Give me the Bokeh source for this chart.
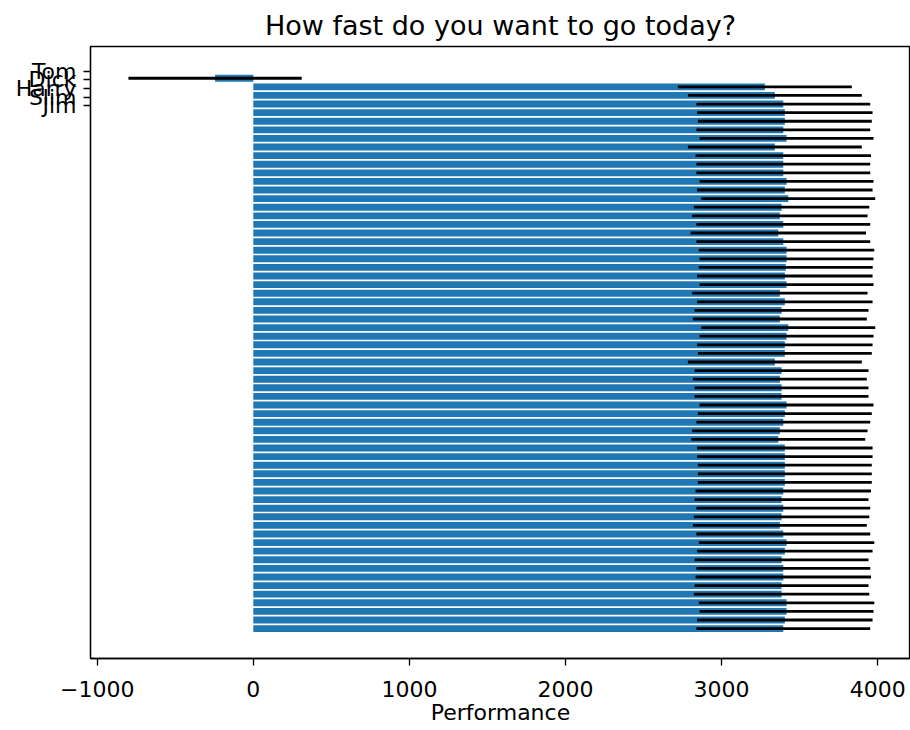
import numpy as np
from bokeh.plotting import figure
from bokeh.models import ColumnDataSource, Range1d, FixedTicker
from bokeh.embed import file_html
from bokeh.resources import INLINE

# Tick names shown on the y axis
people = ["Tom", "Dick", "Harry", "Slim", "Jim"]

# Performance per row (first row is the negative one) and its error half-width
performance = [
    -245,
    3277, 3341, 3395, 3405, 3405, 3395, 3416, 3341, 3395, 3395,
    3395, 3416, 3405, 3427, 3384, 3373, 3395, 3363, 3395, 3416,
    3416, 3411, 3405, 3416, 3373, 3405, 3384, 3373, 3427, 3416,
    3405, 3405, 3341, 3384, 3373, 3384, 3384, 3416, 3405, 3395,
    3373, 3363, 3405, 3405, 3405, 3405, 3405, 3395, 3384, 3395,
    3384, 3373, 3395, 3416, 3405, 3384, 3395, 3395, 3384, 3384,
    3416, 3416, 3405, 3395,
]
error = [
    555,
    557, 557, 557, 562, 557, 557, 557, 557, 562, 557,
    557, 557, 562, 557, 562, 562, 557, 562, 557, 562,
    557, 557, 562, 557, 562, 562, 557, 557, 557, 557,
    562, 557, 557, 557, 557, 557, 557, 557, 557, 557,
    562, 557, 562, 562, 557, 557, 557, 562, 557, 557,
    562, 557, 557, 562, 562, 557, 557, 562, 557, 562,
    562, 557, 562, 557,
]

x_ticks = [-1000, 0, 1000, 2000, 3000, 4000]

row_offset = 0.8  # rows sit slightly below the labelled ticks
rows = np.arange(len(performance)) + row_offset
perf = np.array(performance, dtype=float)
err = np.array(error, dtype=float)

src = ColumnDataSource(dict(
    y=rows,
    right=perf,
    lo=perf - err,
    hi=perf + err,
))

FONT = "DejaVu Sans"

p = figure(
    width=910, height=730,
    output_backend="svg", toolbar_location=None,
    x_range=Range1d(-1043, 4210),
    y_range=Range1d(68.28, -2.89),
    title="How fast do you want to go today?",
    min_border_left=90, min_border_right=0,
    min_border_top=46, min_border_bottom=72,
)

p.hbar(y="y", left=0, right="right", height=0.8, source=src,
       fill_color="#1f77b4", line_color=None)
p.segment(x0="lo", x1="hi", y0="y", y1="y", source=src,
          line_color="black", line_width=2.8)

# Title
p.title.text_font = FONT
p.title.text_font_size = "27px"
p.title.text_font_style = "normal"
p.title.align = "center"
p.title.text_color = "black"
p.title.standoff = 11

# Frame and grid
p.xgrid.visible = False
p.ygrid.visible = False
p.outline_line_color = "black"
p.outline_line_width = 1.3
p.background_fill_color = "white"
p.border_fill_color = "white"

# X axis
xa = p.xaxis[0]
xa.ticker = FixedTicker(ticks=x_ticks)
xa.major_label_overrides = {t: (f"\u2212{abs(t)}" if t < 0 else str(t)) for t in x_ticks}
xa.axis_label = "Performance"

# Y axis
ya = p.yaxis[0]
ya.ticker = FixedTicker(ticks=list(range(len(people))))
ya.major_label_overrides = {i: name for i, name in enumerate(people)}

for ax in (xa, ya):
    ax.minor_tick_line_color = None
    ax.major_tick_in = 0
    ax.major_tick_out = 7
    ax.major_tick_line_color = "black"
    ax.major_tick_line_width = 1.3
    ax.axis_line_color = "black"
    ax.axis_line_width = 1.3
    ax.major_label_text_font = FONT
    ax.major_label_text_font_size = "22px"
    ax.major_label_text_color = "black"
    ax.axis_label_text_font = FONT
    ax.axis_label_text_font_size = "22px"
    ax.axis_label_text_font_style = "normal"
    ax.axis_label_text_color = "black"

xa.major_label_standoff = 15
xa.axis_label_standoff = 0
ya.major_label_standoff = 7

open("out.html", "w").write(file_html(p, INLINE))
